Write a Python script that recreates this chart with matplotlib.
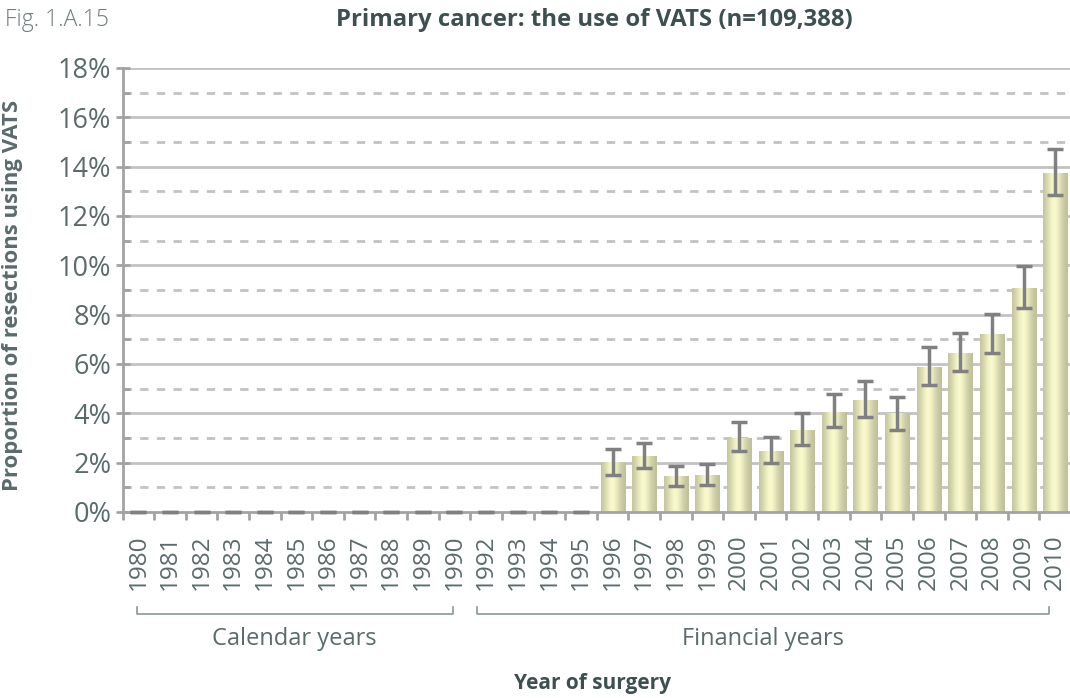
import numpy as np
import matplotlib
matplotlib.use('Agg')
import matplotlib.pyplot as plt
from matplotlib.transforms import blended_transform_factory

# data (percent)
years = ['1980', '1981', '1982', '1983', '1984', '1985', '1986', '1987', '1988', '1989', '1990',
         '1992', '1993', '1994', '1995', '1996', '1997', '1998', '1999', '2000', '2001', '2002',
         '2003', '2004', '2005', '2006', '2007', '2008', '2009', '2010']
vats = [0, 0, 0, 0, 0, 0, 0, 0, 0, 0, 0,
        0, 0, 0, 0, 2.0, 2.23, 1.42, 1.46, 3.0, 2.47, 3.32,
        4.05, 4.54, 4.01, 5.87, 6.44, 7.21, 9.08, 13.74]
ci_low = [0, 0, 0, 0, 0, 0, 0, 0, 0, 0, 0,
          0, 0, 0, 0, 1.5, 1.78, 1.05, 1.09, 2.47, 1.99, 2.72,
          3.45, 3.85, 3.32, 5.15, 5.72, 6.44, 8.27, 12.85]
ci_high = [0, 0, 0, 0, 0, 0, 0, 0, 0, 0, 0,
           0, 0, 0, 0, 2.55, 2.8, 1.86, 1.95, 3.65, 3.04, 4.01,
           4.78, 5.31, 4.66, 6.69, 7.26, 8.03, 9.97, 14.7]

txt = '#5b6a6a'
dark = '#3e4f4f'
axcol = '#a3a3a3'
plt.rcParams['font.family'] = ['Open Sans', 'DejaVu Sans']

fig = plt.figure(figsize=(10.7, 6.98), dpi=100)
ax = fig.add_axes([122.5 / 1070, 1 - 512 / 698, (1071 - 122.5) / 1070, 444 / 698])

x = np.arange(len(years))
bars = ax.bar(x, vats, width=0.76, color='none', edgecolor='none', zorder=2)

# cylinder-like shading for bars
prof = np.linspace(0, 1, 40)
shade = np.exp(-((prof - 0.45) / 0.33) ** 2)
c_edge = np.array([0.74, 0.74, 0.60])
c_mid = np.array([0.975, 0.975, 0.80])
grad = (c_edge[None, :] + (c_mid - c_edge)[None, :] * shade[:, None])[None, :, :]
for b in bars:
    h = b.get_height()
    if h > 0:
        x0 = b.get_x()
        ax.imshow(grad, extent=[x0, x0 + b.get_width(), 0, h], aspect='auto', zorder=2)

err = [np.array(vats) - np.array(ci_low), np.array(ci_high) - np.array(vats)]
ax.errorbar(x, vats, yerr=err, fmt='none', ecolor='#808080', elinewidth=2.5,
            capsize=5.5, capthick=2.5, zorder=6, clip_on=False)

ax.set_xlim(-0.5, len(years) - 0.5)
ax.set_ylim(0, 18)

# grid: solid at even, dashed at odd
for v in range(2, 19, 2):
    ax.axhline(v, color='#c2c2c2', lw=2, zorder=0)
for v in range(1, 18, 2):
    ax.axhline(v, color='#c2c2c2', lw=2, ls=(0, (3, 3)), zorder=0)

ax.set_yticks(range(0, 19, 2))
ax.set_yticklabels([f'{v}%' for v in range(0, 19, 2)])
ax.set_yticks(range(1, 18, 2), minor=True)
ax.tick_params(axis='y', which='major', direction='inout', length=10, width=2,
               color=axcol, labelsize=19.5, labelcolor=txt, pad=3)
ax.tick_params(axis='y', which='minor', direction='in', length=5, width=2, color=axcol)

ax.set_xticks(x)
ax.set_xticklabels(years, rotation=90)
ax.set_xticks(np.arange(-0.5, len(years), 1), minor=True)
ax.tick_params(axis='x', which='major', length=0, labelsize=17.5, labelcolor=txt, pad=16)
ax.tick_params(axis='x', which='minor', direction='out', length=6, width=2, color=axcol)

for s in ['top', 'right']:
    ax.spines[s].set_visible(False)
for s in ['left', 'bottom']:
    ax.spines[s].set_color(axcol)
    ax.spines[s].set_linewidth(2)
ax.spines['bottom'].set_zorder(5)

# period brackets
tr = blended_transform_factory(ax.transData, ax.transAxes)
yb, yt = -0.229, -0.213
for a, b, label in [(0 - 0.05, 10 - 0.05, 'Calendar years'), (11 - 0.3, 29 - 0.2, 'Financial years')]:
    ax.plot([a, a, b, b], [yt, yb, yb, yt], color='#8a9898', lw=1.2, transform=tr, clip_on=False)
    ax.text((a + b) / 2, -0.286, label, transform=tr, ha='center', va='center',
            fontsize=17, color=txt)

fig.text(594 / 1070, 1 - 20 / 698, 'Primary cancer: the use of VATS (n=109,388)', ha='center',
         va='center', fontsize=17.2, fontweight='bold', color=dark)
fig.text(5 / 1070, 1 - 20 / 698, 'Fig. 1.A.15', ha='left', va='center', fontsize=16.5,
         fontweight='light', color='#6f7c7c')
fig.text(593 / 1070, 1 - 683 / 698, 'Year of surgery', ha='center', va='center',
         fontsize=15, fontweight='bold', color=dark)
fig.text(13 / 1070, 1 - 295 / 698, 'Proportion of resections using VATS', ha='center',
         va='center', rotation=90, fontsize=15.9, fontweight='bold', color=txt)

fig.savefig('out.png', dpi=100)
